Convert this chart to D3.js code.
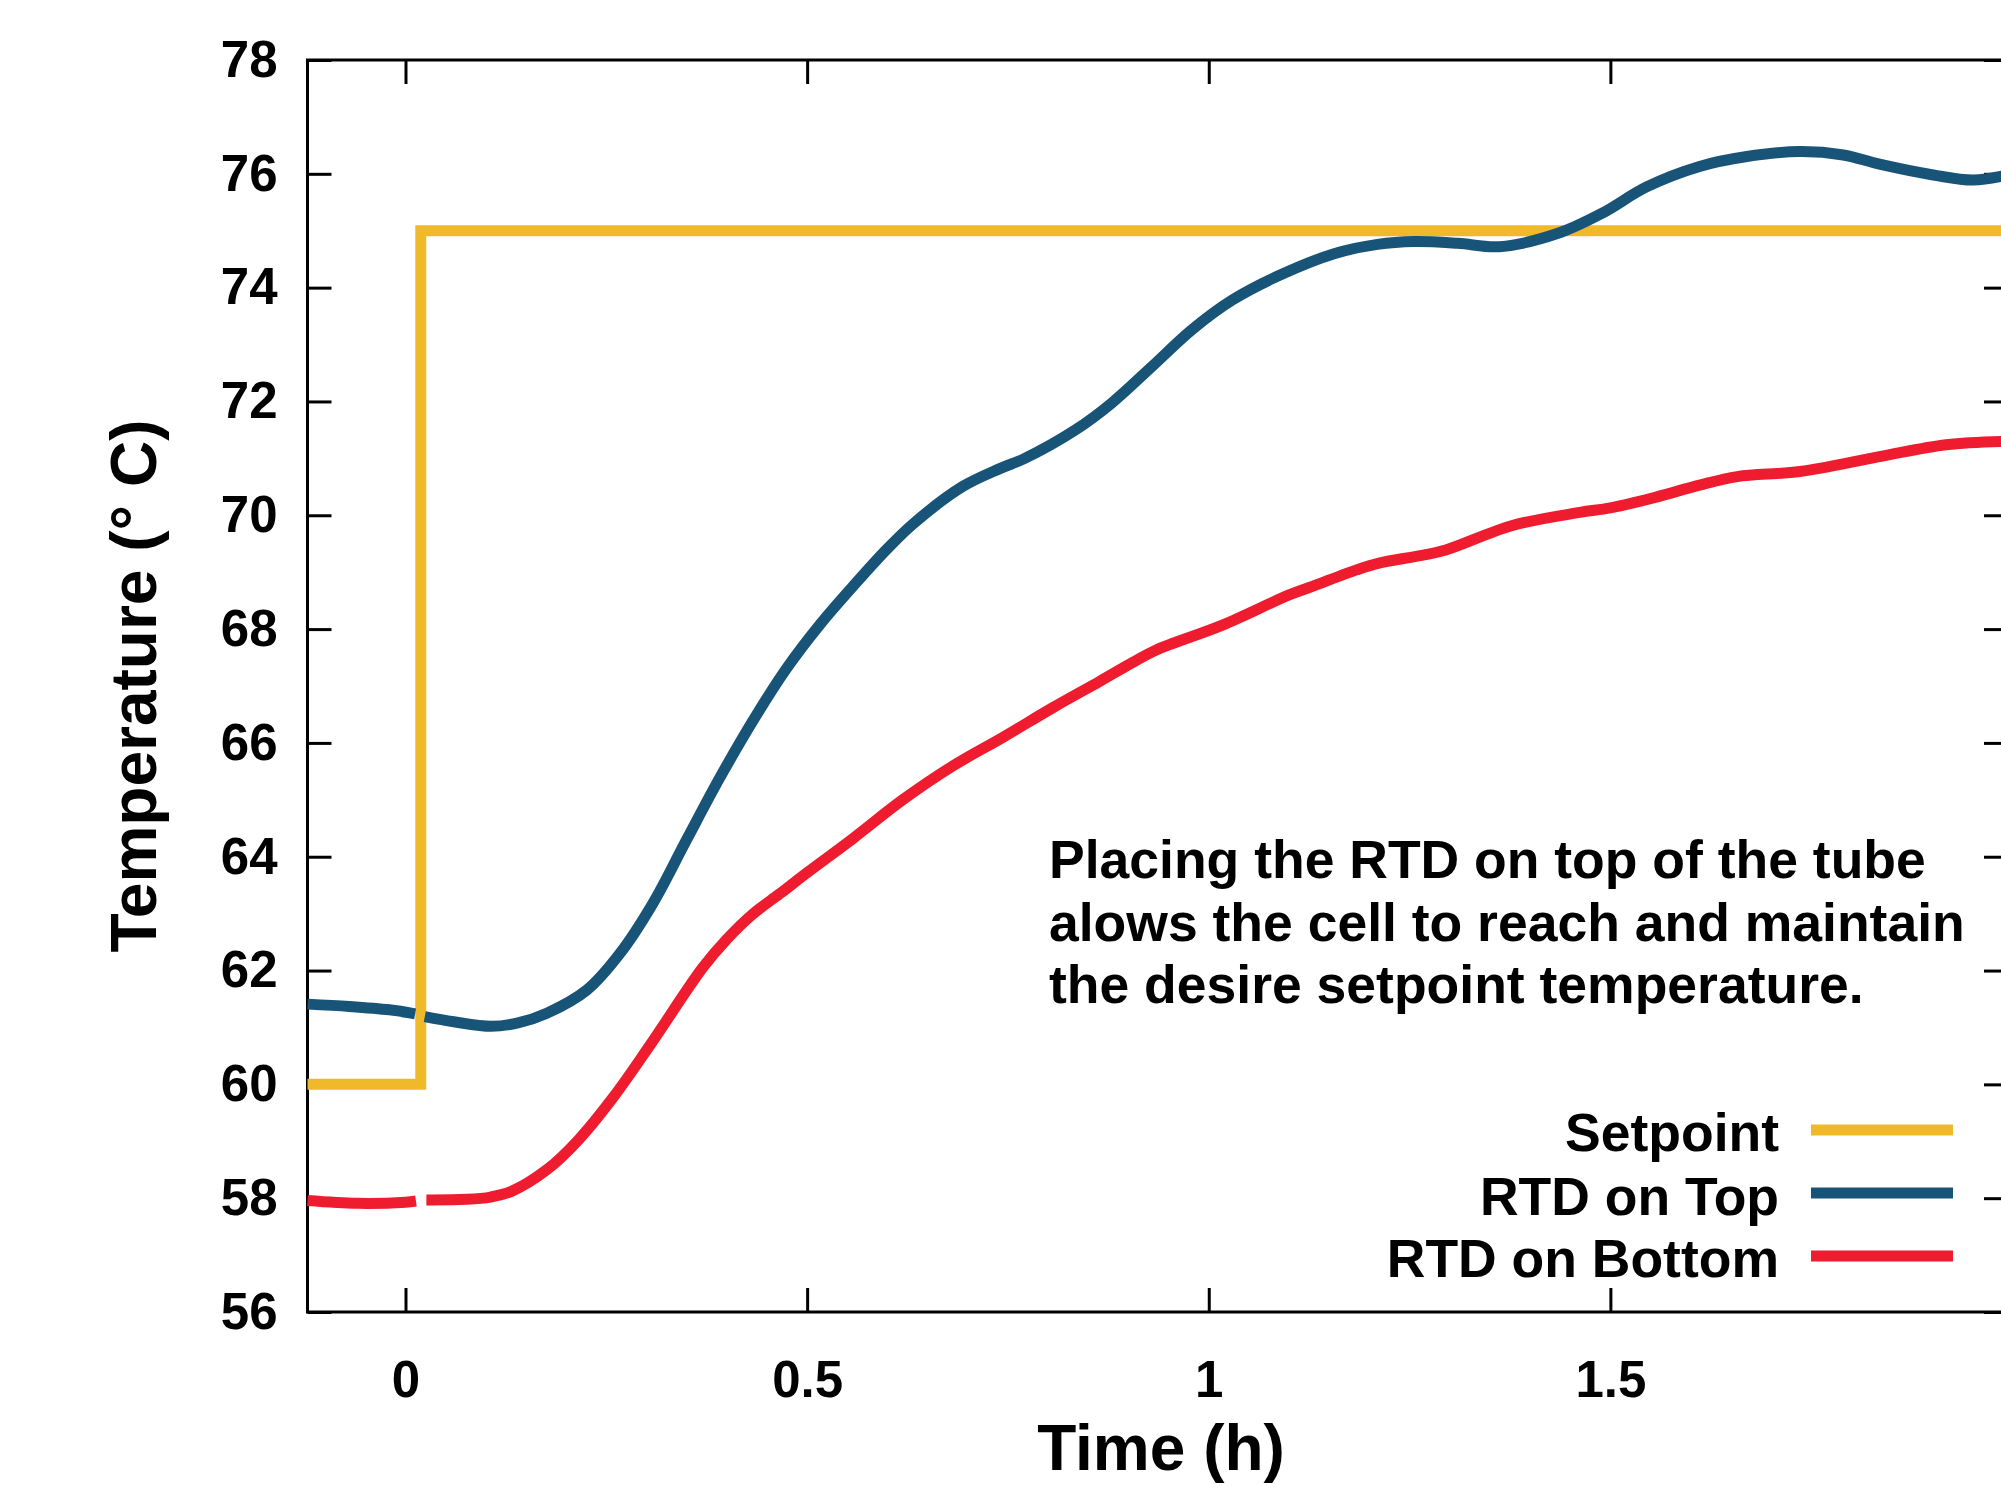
<!DOCTYPE html>
<html>
<head>
<meta charset="utf-8">
<script src="https://cdn.jsdelivr.net/npm/d3@7"></script>
<style>
  html, body { margin: 0; padding: 0; background: #ffffff; }
  svg { display: block; }
  text { font-family: "Liberation Sans", Arial, Helvetica, sans-serif; font-weight: bold; fill: #000; }
</style>
</head>
<body>
<svg id="chart" width="2001" height="1486"></svg>
<script>
// ---------------- data ----------------
const seriesNames = ["Setpoint", "RTD on Top", "RTD on Bottom"];
const seriesColors = ["#F0B929", "#185478", "#EE1C2E"];

const setpointTime = [-0.122, 0.019, 0.019, 1.995];
const setpointTemp = [60, 60, 75, 75];

// null marks a short break in the recorded trace
const topTime = [-0.122, -0.07, -0.02, 0.012, 0.018, 0.024, 0.06, 0.107, 0.14, 0.176, 0.226, 0.267, 0.308, 0.35, 0.391,
  0.433, 0.474, 0.516, 0.557, 0.599, 0.632, 0.693, 0.74, 0.771, 0.834, 0.879, 0.929, 0.979, 1.029, 1.084, 1.157, 1.21,
  1.256, 1.31, 1.362, 1.434, 1.49, 1.545, 1.611, 1.668, 1.736, 1.79, 1.835, 1.902, 1.952, 1.995];
const topTemp = [61.41, 61.37, 61.31, 61.24, null, 61.19, 61.10, 61.02, 61.08, 61.25, 61.66, 62.3, 63.18, 64.3, 65.38,
  66.4, 67.3, 68.08, 68.75, 69.4, 69.85, 70.5, 70.82, 71.0, 71.5, 71.97, 72.61, 73.26, 73.78, 74.19, 74.6, 74.76,
  74.81, 74.78, 74.72, 74.95, 75.31, 75.77, 76.13, 76.3, 76.39, 76.33, 76.17, 75.98, 75.89, 75.98];

const bottomTime = [-0.122, -0.06, 0.0, 0.013, 0.019, 0.026, 0.076, 0.106, 0.132, 0.176, 0.215, 0.259, 0.304, 0.37,
  0.40, 0.433, 0.466, 0.5, 0.557, 0.619, 0.682, 0.744, 0.806, 0.864, 0.906, 0.934, 1.017, 1.1, 1.129, 1.184, 1.212,
  1.267, 1.295, 1.378, 1.462, 1.5, 1.557, 1.611, 1.658, 1.736, 1.835, 1.918, 1.995];
const bottomTemp = [57.96, 57.91, 57.93, 57.95, null, 57.97, 57.98, 58.02, 58.12, 58.5, 59.02, 59.78, 60.68, 62.05,
  62.55, 63.0, 63.35, 63.72, 64.32, 65.0, 65.6, 66.1, 66.62, 67.08, 67.42, 67.63, 68.07, 68.6, 68.75, 69.04, 69.16,
  69.3, 69.39, 69.82, 70.05, 70.13, 70.32, 70.53, 70.68, 70.77, 71.03, 71.24, 71.3];

const xTickValues = [0, 0.5, 1, 1.5];
const xTickLabels = ["0", "0.5", "1", "1.5"];
const yTickValues = [56, 58, 60, 62, 64, 66, 68, 70, 72, 74, 76, 78];
const yTickLabels = ["56", "58", "60", "62", "64", "66", "68", "70", "72", "74", "76", "78"];

const xTitle = "Time (h)";
const yTitle = "Temperature (° C)";
const noteLines = ["Placing the RTD on top of the tube",
                   "alows the cell to reach and maintain",
                   "the desire setpoint temperature."];

// ---------------- layout ----------------
const svg = d3.select("#chart");
const pLeft = 307.5, pRight = 2008, pTop = 60, pBottom = 1312;
const x = d3.scaleLinear().domain([-0.122, 1.995]).range([pLeft, pRight]);
const y = d3.scaleLinear().domain([56, 78]).range([pBottom, pTop]);

const tickFont = 51;
const tickLen = 24;

// frame
svg.append("rect")
  .attr("x", pLeft).attr("y", pTop)
  .attr("width", pRight - pLeft).attr("height", pBottom - pTop)
  .attr("fill", "none").attr("stroke", "#000").attr("stroke-width", 3);

function styleAxis(g) {
  g.select(".domain").remove();
  g.selectAll(".tick line").attr("stroke", "#000").attr("stroke-width", 3);
  g.selectAll(".tick text")
    .style("font-family", '"Liberation Sans", Arial, sans-serif')
    .style("font-weight", "bold")
    .style("font-size", tickFont + "px")
    .attr("fill", "#000");
}

// bottom axis
svg.append("g").attr("transform", `translate(0,${pBottom})`)
  .call(d3.axisBottom(x).tickValues(xTickValues)
    .tickFormat((d, i) => xTickLabels[i])
    .tickSizeInner(-tickLen).tickSizeOuter(0).tickPadding(49))
  .call(styleAxis);

// top axis (ticks only)
svg.append("g").attr("transform", `translate(0,${pTop})`)
  .call(d3.axisTop(x).tickValues(xTickValues).tickFormat("")
    .tickSizeInner(-tickLen).tickSizeOuter(0))
  .call(styleAxis);

// left axis
svg.append("g").attr("transform", `translate(${pLeft},0)`)
  .call(d3.axisLeft(y).tickValues(yTickValues)
    .tickFormat((d, i) => yTickLabels[i])
    .tickSizeInner(-tickLen).tickSizeOuter(0).tickPadding(30))
  .call(styleAxis);

// right axis (ticks only)
svg.append("g").attr("transform", `translate(${pRight},0)`)
  .call(d3.axisRight(y).tickValues(yTickValues).tickFormat("")
    .tickSizeInner(-tickLen).tickSizeOuter(0))
  .call(styleAxis);

// axis titles
svg.append("text")
  .attr("transform", `translate(156,686) rotate(-90)`)
  .attr("text-anchor", "middle")
  .style("font-size", "64px")
  .text(yTitle);

svg.append("text")
  .attr("x", 1161).attr("y", 1470)
  .attr("text-anchor", "middle")
  .style("font-size", "64px")
  .text(xTitle);

// ---------------- lines ----------------
const plot = svg.append("g");
const lineW = 11;

const stepLine = d3.line().x(d => x(d[0])).y(d => y(d[1]));
const setpointData = setpointTime.map((t, i) => [t, setpointTemp[i]]);
plot.append("path")
  .attr("d", stepLine(setpointData))
  .attr("fill", "none").attr("stroke", seriesColors[0])
  .attr("stroke-width", lineW).attr("stroke-linejoin", "miter").attr("stroke-linecap", "butt");

const smooth = d3.line()
  .defined(d => d[1] !== null)
  .x(d => x(d[0])).y(d => y(d[1]))
  .curve(d3.curveCatmullRom.alpha(0.5));

const topData = topTime.map((t, i) => [t, topTemp[i]]);
const bottomData = bottomTime.map((t, i) => [t, bottomTemp[i]]);

plot.append("path")
  .attr("d", smooth(bottomData))
  .attr("fill", "none").attr("stroke", seriesColors[2])
  .attr("stroke-width", lineW).attr("stroke-linejoin", "round");

plot.append("path")
  .attr("d", smooth(topData))
  .attr("fill", "none").attr("stroke", seriesColors[1])
  .attr("stroke-width", lineW).attr("stroke-linejoin", "round");

// ---------------- annotation ----------------
const note = svg.append("text")
  .attr("x", 1049).attr("y", 878)
  .style("font-size", "53.5px");
noteLines.forEach((s, i) => {
  note.append("tspan").attr("x", 1049).attr("y", 878 + i * 62.5).text(s);
});

// ---------------- legend ----------------
const legendBaseline = [1151, 1215, 1277];
const legendLineY = [1130, 1193, 1256];
seriesNames.forEach((name, i) => {
  svg.append("text")
    .attr("x", 1779).attr("y", legendBaseline[i])
    .attr("text-anchor", "end")
    .style("font-size", "53.5px")
    .text(name);
  svg.append("line")
    .attr("x1", 1811).attr("x2", 1953)
    .attr("y1", legendLineY[i]).attr("y2", legendLineY[i])
    .attr("stroke", seriesColors[i]).attr("stroke-width", lineW);
});
</script>
</body>
</html>
